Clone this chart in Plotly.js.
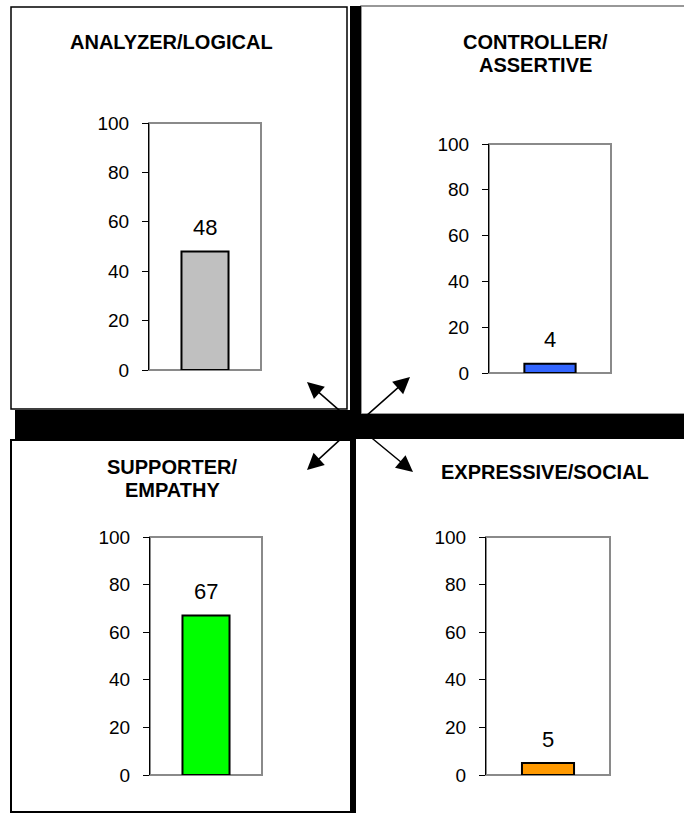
<!DOCTYPE html>
<html>
<head>
<meta charset="utf-8">
<script src="https://cdn.plot.ly/plotly-3.0.1.min.js"></script>
<style>html,body{margin:0;padding:0;background:#fff;}#chart{width:684px;height:813px;}</style>
</head>
<body>
<div id="chart"></div>
<script>
// ---- data ----
const categories = ["ANALYZER/LOGICAL", "CONTROLLER/ASSERTIVE", "SUPPORTER/EMPATHY", "EXPRESSIVE/SOCIAL"];
const titleLines = [["ANALYZER/LOGICAL"], ["CONTROLLER/", "ASSERTIVE"], ["SUPPORTER/", "EMPATHY"], ["EXPRESSIVE/SOCIAL"]];
const values = [48, 4, 67, 5];
const tickValues = [0, 20, 40, 60, 80, 100];
const tickLabels = ["0", "20", "40", "60", "80", "100"];
const barColors = ["#C0C0C0", "#3366FF", "#00FF00", "#FF9900"];

// ---- layout helpers (pixel -> paper) ----
const W = 684, H = 813;
const px = v => v / W;
const py = v => 1 - v / H;

// plot-area boxes in pixels [left, right, top, bottom]
const boxes = [
  [149, 261, 123, 370],
  [489, 611, 144, 373],
  [150, 262, 537, 775],
  [486, 610, 537, 775]
];
// title centres in pixels [x, firstLineY]
const titlePos = [[171, 42], [535, 42], [172, 467], [545, 472]];
const FONT = "Liberation Sans, Arial, sans-serif";

const traces = [];
const layout = {
  width: W, height: H,
  margin: {l: 0, r: 0, t: 0, b: 0},
  paper_bgcolor: "#ffffff",
  plot_bgcolor: "rgba(0,0,0,0)",
  showlegend: false,
  bargap: 0,
  shapes: [],
  annotations: []
};

categories.forEach((cat, i) => {
  const n = i === 0 ? "" : String(i + 1);
  const b = boxes[i];
  traces.push({
    type: "bar",
    x: [cat], y: [values[i]],
    width: [0.42],
    xaxis: "x" + n, yaxis: "y" + n,
    marker: {color: barColors[i], line: {color: "#000000", width: 2}},
    hoverinfo: "skip"
  });
  layout["xaxis" + n] = {
    domain: [px(b[0]), px(b[1])],
    anchor: "y" + n,
    type: "category",
    range: [-0.5, 0.5],
    visible: false,
    fixedrange: true
  };
  layout["yaxis" + n] = {
    domain: [py(b[3]), py(b[2])],
    anchor: "x" + n,
    range: [0, 100],
    tickvals: tickValues,
    ticktext: tickLabels,
    ticks: "outside",
    ticklen: 6,
    tickwidth: 1,
    tickcolor: "#000000",
    ticklabelstandoff: 9,
    showline: true,
    linecolor: "#000000",
    linewidth: 1,
    showgrid: false,
    zeroline: false,
    tickfont: {family: FONT, size: 19, color: "#000000"},
    fixedrange: true
  };
  // gray plot-area border
  layout.shapes.push({
    type: "rect", layer: "below",
    xref: "x" + n + " domain", yref: "y" + n + " domain",
    x0: 0, x1: 1, y0: 0, y1: 1,
    line: {color: "#8a8a8a", width: 2}
  });
  // value label
  layout.annotations.push({
    xref: "x" + n, yref: "y" + n,
    x: cat, y: values[i],
    text: String(values[i]),
    showarrow: false,
    yanchor: "middle",
    yshift: 24,
    font: {family: FONT, size: 22, color: "#000000"}
  });
  // title lines
  titleLines[i].forEach((line, k) => {
    layout.annotations.push({
      xref: "paper", yref: "paper",
      x: px(titlePos[i][0]), y: py(titlePos[i][1] + k * 23),
      xanchor: "center", yanchor: "middle",
      text: "<b>" + line + "</b>",
      showarrow: false,
      font: {family: FONT, size: 20, color: "#000000"}
    });
  });
});

// ---- decorative frames and separators ----
const rectPx = (x0, y0, x1, y1, opts) => Object.assign({
  type: "rect", xref: "paper", yref: "paper",
  x0: px(x0), x1: px(x1), y0: py(y1), y1: py(y0)
}, opts);

layout.shapes.push(
  rectPx(11, 7, 347, 409, {line: {color: "#000000", width: 1.5}, fillcolor: "rgba(0,0,0,0)"}),
  rectPx(361, 6, 700, 414, {line: {color: "#777777", width: 1.5}, fillcolor: "rgba(0,0,0,0)"}),
  rectPx(11, 440, 351, 812, {line: {color: "#000000", width: 2}, fillcolor: "rgba(0,0,0,0)"}),
  rectPx(350, 6, 361, 414, {line: {width: 0}, fillcolor: "#000000"}),
  rectPx(15, 410, 361, 439, {line: {width: 0}, fillcolor: "#000000"}),
  rectPx(361, 414, 690, 439, {line: {width: 0}, fillcolor: "#000000"}),
  rectPx(351, 439, 356, 820, {line: {width: 0}, fillcolor: "#000000"})
);

// ---- arrows from centre ----
const centre = [356, 425];
const heads = [[307, 382], [410, 377], [307, 470], [413, 472]];
heads.forEach(h => {
  layout.annotations.push({
    xref: "paper", yref: "paper",
    x: px(h[0]), y: py(h[1]),
    ax: centre[0] - h[0], ay: centre[1] - h[1],
    axref: "pixel", ayref: "pixel",
    text: "",
    showarrow: true,
    arrowhead: 2,
    arrowsize: 2.2,
    arrowwidth: 1.5,
    arrowcolor: "#000000"
  });
});

Plotly.newPlot("chart", traces, layout, {displayModeBar: false, staticPlot: true});
</script>
</body>
</html>
